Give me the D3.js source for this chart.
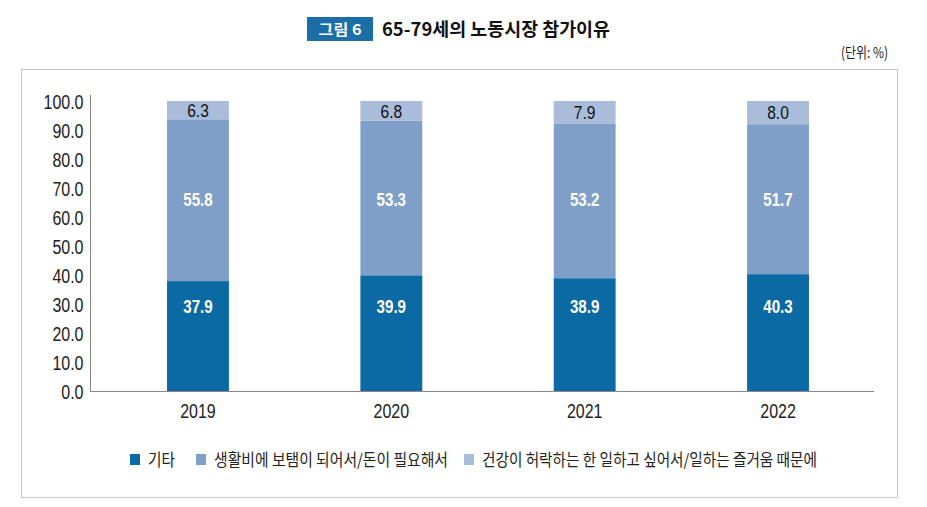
<!DOCTYPE html>
<html><head><meta charset="utf-8">
<script src="https://cdn.jsdelivr.net/npm/d3@7"></script>
<style>
html,body{margin:0;padding:0;background:#fff;}
svg{display:block;}
</style></head>
<body>
<script>
const years = ["2019", "2020", "2021", "2022"];
const seriesNames = ["기타", "생활비에 보탬이 되어서/돈이 필요해서", "건강이 허락하는 한 일하고 싶어서/일하는 즐거움 때문에"];
const etc = [37.9, 39.9, 38.9, 40.3];
const living = [55.8, 53.3, 53.2, 51.7];
const health = [6.3, 6.8, 7.9, 8.0];
const yTicks = [0, 10, 20, 30, 40, 50, 60, 70, 80, 90, 100];
const colors = ["#0b69a3", "#809fc8", "#a9bcda"];

const W = 927, H = 507;
const svg = d3.select("body").append("svg").attr("width", W).attr("height", H);
const NUM = "'Liberation Sans',Arial,sans-serif";
const KR = "'Noto Sans CJK KR','Noto Sans',sans-serif";

function condense(sel, f) {
  sel.each(function () {
    const L = this.getComputedTextLength();
    d3.select(this).attr("textLength", L * f).attr("lengthAdjust", "spacingAndGlyphs");
  });
}

// title
svg.append("rect").attr("x", 307).attr("y", 17).attr("width", 66).attr("height", 24).attr("fill", "#1c6ea6");
svg.append("text").attr("x", 340).attr("y", 35).attr("text-anchor", "middle")
  .attr("font-family", KR).attr("font-weight", "bold").attr("font-size", 15).attr("fill", "#fff")
  .attr("textLength", 43).attr("lengthAdjust", "spacingAndGlyphs").text("그림 6");
svg.append("text").attr("x", 382).attr("y", 36)
  .attr("font-family", KR).attr("font-weight", "bold").attr("font-size", 18.5).attr("fill", "#111")
  .attr("textLength", 228).attr("lengthAdjust", "spacingAndGlyphs").text("65-79세의 노동시장 참가이유");
svg.append("text").attr("x", 888).attr("y", 58).attr("text-anchor", "end")
  .attr("font-family", KR).attr("font-size", 15).attr("fill", "#222")
  .attr("textLength", 47).attr("lengthAdjust", "spacingAndGlyphs").text("(단위: %)");

// frame
svg.append("rect").attr("x", 21.5).attr("y", 69.5).attr("width", 876).attr("height", 428)
  .attr("fill", "none").attr("stroke", "#c8c8c8").attr("stroke-width", 1);

const x = d3.scaleBand().domain(years).range([101.3, 874.7]).paddingInner(0.68).paddingOuter(0.34);
const y = d3.scaleLinear().domain([0, 100]).range([391, 101]);

const rows = years.map((yr, i) => ({year: yr, etc: etc[i], living: living[i], health: health[i]}));
const stack = d3.stack().keys(["etc", "living", "health"])(rows);

const g = svg.append("g");
stack.forEach((layer, li) => {
  g.selectAll(null).data(layer).enter().append("rect")
    .attr("x", d => x(d.data.year))
    .attr("width", x.bandwidth())
    .attr("y", d => y(d[1]))
    .attr("height", d => y(d[0]) - y(d[1]))
    .attr("fill", colors[li]);
});

// axes
const yAxis = d3.axisLeft(y).tickValues(yTicks).tickFormat(d3.format(".1f")).tickSize(0).tickPadding(7);
const ya = svg.append("g").attr("transform", "translate(90.5,0)").call(yAxis);
ya.select(".domain").attr("stroke", "#888").attr("d", `M0,${95}V${y(0)+0.5}`);
ya.selectAll("text").attr("font-family", NUM).attr("font-size", 19.5).attr("fill", "#222").attr("dy", "0.36em");
condense(ya.selectAll("text"), 0.82);

const xAxis = d3.axisBottom(x).tickSize(0).tickPadding(13);
const xa = svg.append("g").attr("transform", `translate(0,${y(0)+0.5})`).call(xAxis);
xa.select(".domain").attr("stroke", "#888").attr("d", `M90,0H874`);
xa.selectAll("text").attr("font-family", NUM).attr("font-size", 19.5).attr("fill", "#222");
condense(xa.selectAll("text"), 0.82);

// value labels
const cx = d => x(d) + x.bandwidth() / 2;
const lbl = svg.append("g").attr("text-anchor", "middle").attr("font-family", NUM);
lbl.selectAll(null).data(rows).enter().append("text")
  .attr("x", d => cx(d.year)).attr("y", y(29)).attr("dy", "0.36em")
  .attr("font-size", 18).attr("font-weight", "bold").attr("fill", "#fff")
  .text(d => d3.format(".1f")(d.etc));
lbl.selectAll(null).data(rows).enter().append("text")
  .attr("x", d => cx(d.year)).attr("y", y(66)).attr("dy", "0.36em")
  .attr("font-size", 18).attr("font-weight", "bold").attr("fill", "#fff")
  .text(d => d3.format(".1f")(d.living));
lbl.selectAll(null).data(rows).enter().append("text")
  .attr("x", d => cx(d.year)).attr("y", d => y(100 - d.health / 2)).attr("dy", "0.36em")
  .attr("font-size", 18.5).attr("fill", "#111")
  .text(d => d3.format(".1f")(d.health));
condense(lbl.selectAll("text"), 0.84);

// legend
const legX = [130, 196, 464];
const legW = [27, 234, 335];
const leg = svg.append("g");
seriesNames.forEach((name, i) => {
  leg.append("rect").attr("x", legX[i]).attr("y", 454).attr("width", 10).attr("height", 11).attr("fill", colors[i]);
  leg.append("text").attr("x", legX[i] + 18).attr("y", 466)
    .attr("font-family", KR).attr("font-size", 16.5).attr("fill", "#222")
    .attr("textLength", legW[i]).attr("lengthAdjust", "spacingAndGlyphs").text(name);
});
</script>
</body></html>
